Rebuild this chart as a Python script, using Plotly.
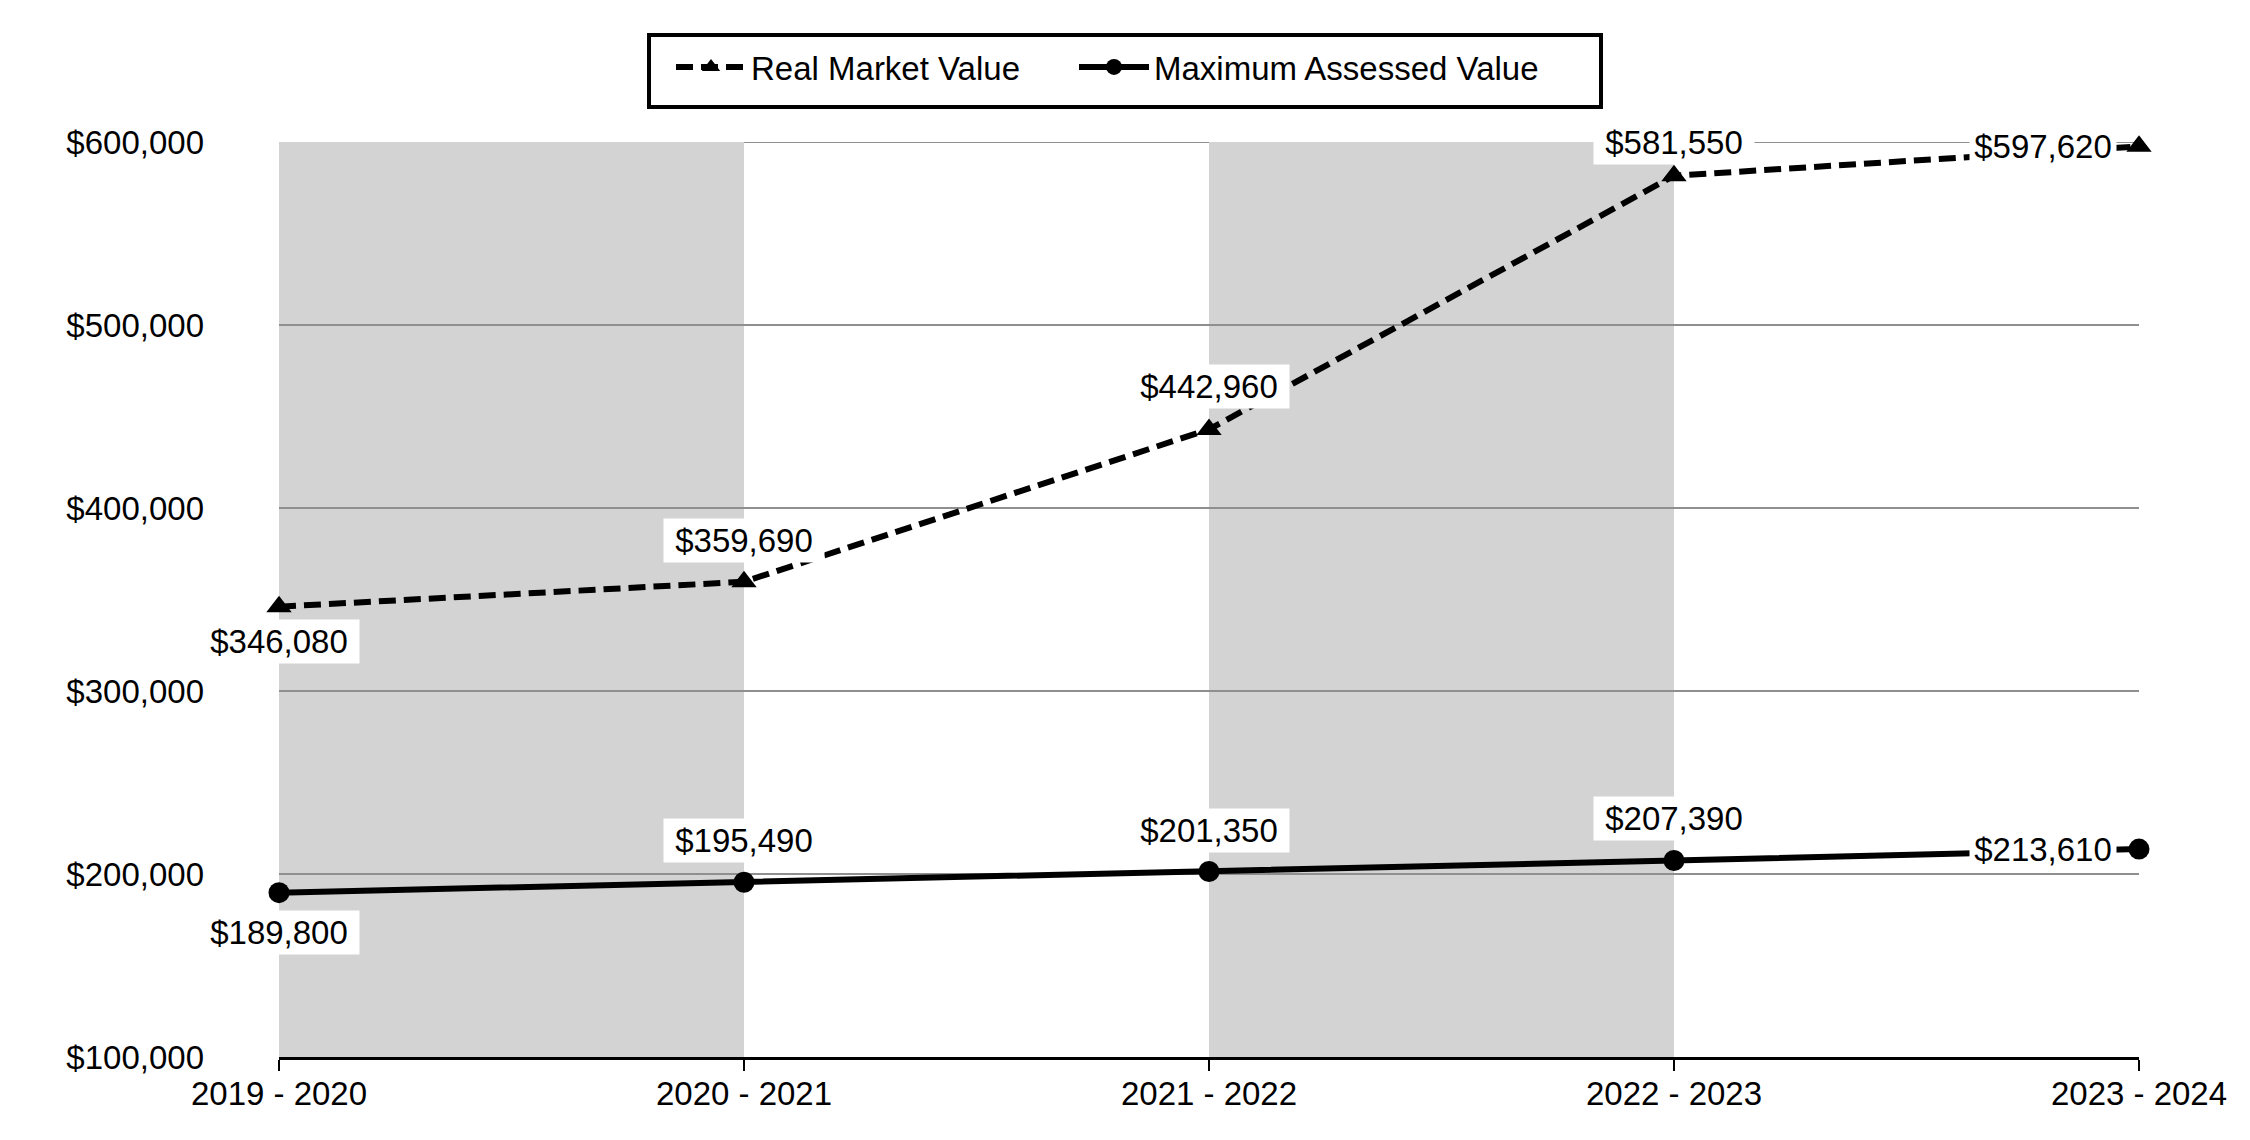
import plotly.graph_objects as go

years = ["2019 - 2020", "2020 - 2021", "2021 - 2022", "2022 - 2023", "2023 - 2024"]
real_market = [346080, 359690, 442960, 581550, 597620]
max_assessed = [189800, 195490, 201350, 207390, 213610]
y_ticks = [100000, 200000, 300000, 400000, 500000, 600000]
shaded_pairs = [(0, 1), (2, 3)]

# label placement per point: (yshift, xanchor, xshift)
real_label_pos = [(-35, "center", 0), (41, "center", 0), (43, "center", 0), (33, "center", 0), (0, "right", -22)]
max_label_pos = [(-40, "center", 0), (42, "center", 0), (41, "center", 0), (42, "center", 0), (0, "right", -22)]

FONT = "Arial, Liberation Sans, sans-serif"
FS = 33

# page has an 8px body margin; figure sized to fill the 2250x1140 window
OFF = 8
W, H = 2250 - 2 * OFF, 1140 - 2 * OFF
ML, MT = 279 - OFF, 142 - OFF
MR = (W + OFF) - 2139
MB = (H + OFF) - 1057
PW, PH = W - ML - MR, H - MT - MB

fig = go.Figure()

fig.add_trace(go.Scatter(
    x=years, y=real_market, name="Real Market Value", mode="lines+markers",
    line=dict(color="black", width=6, dash="17px,8px"),
    marker=dict(symbol="triangle-up", size=22, color="black"),
    cliponaxis=False, hoverinfo="skip", legend="legend",
))
fig.add_trace(go.Scatter(
    x=years, y=max_assessed, name="Maximum Assessed Value", mode="lines+markers",
    line=dict(color="black", width=6),
    marker=dict(symbol="circle", size=21, color="black"),
    cliponaxis=False, hoverinfo="skip", legend="legend2",
))

for a, b in shaded_pairs:
    fig.add_shape(type="rect", xref="x", yref="y", x0=years[a], x1=years[b],
                  y0=y_ticks[0], y1=y_ticks[-1], fillcolor="#d3d3d3",
                  line=dict(width=0), layer="below")
# top gridline (plotly omits the grid line at the range edge)
fig.add_shape(type="line", xref="paper", yref="y", x0=0, x1=1,
              y0=y_ticks[-1], y1=y_ticks[-1], line=dict(color="#8f8f8f", width=2),
              layer="below")

# legend frame (page pixel coords -> paper)
lx0, lx1, ly0, ly1 = 649, 1601, 35, 107
fig.add_shape(type="rect", xref="paper", yref="paper",
              x0=(lx0 - OFF - ML) / PW, x1=(lx1 - OFF - ML) / PW,
              y0=(H - MB - (ly1 - OFF)) / PH, y1=(H - MB - (ly0 - OFF)) / PH,
              line=dict(color="black", width=4), fillcolor="rgba(0,0,0,0)")

def add_labels(values, positions):
    for i, (v, pos) in enumerate(zip(values, positions)):
        ys, xa, xs = pos
        centered = xa == "center"
        fig.add_annotation(x=years[i], y=v, text=f"${v:,}", showarrow=False,
                           xanchor=xa, yanchor="middle", xshift=xs, yshift=ys,
                           bgcolor="white", borderpad=5 if centered else 3,
                           width=150 if centered else 140, height=33 if centered else 37,
                           align="center",
                           font=dict(family=FONT, size=FS, color="black"))

add_labels(real_market, real_label_pos)
add_labels(max_assessed, max_label_pos)

leg_common = dict(
    orientation="h", xref="container", yref="container",
    xanchor="left", yanchor="middle", y=1 - (69 - OFF - 2) / H,
    borderwidth=0, bgcolor="rgba(0,0,0,0)",
    font=dict(family=FONT, size=FS, color="black"),
    itemwidth=70,
)

fig.update_layout(
    width=W, height=H,
    margin=dict(l=ML, r=MR, t=MT, b=MB, autoexpand=False),
    paper_bgcolor="white", plot_bgcolor="white",
    font=dict(family=FONT, size=FS, color="black"),
    showlegend=True,
    legend=dict(x=(671 - OFF) / W, **leg_common),
    legend2=dict(x=(1074 - OFF) / W, **leg_common),
    xaxis=dict(
        type="category", range=[0, len(years) - 1], automargin=False,
        showgrid=False, zeroline=False,
        showline=True, linecolor="black", linewidth=3,
        ticks="outside", ticklen=11, tickwidth=1.5, tickcolor="black",
        ticklabelstandoff=-6,
        tickfont=dict(family=FONT, size=FS, color="black"),
    ),
    yaxis=dict(
        range=[y_ticks[0], y_ticks[-1]], tickvals=y_ticks, automargin=False,
        tickformat="$,", showgrid=True, gridcolor="#8f8f8f", gridwidth=2,
        zeroline=False, showline=False, ticks="",
        ticklabelstandoff=74,
        tickfont=dict(family=FONT, size=FS, color="black"),
    ),
)

fig.write_html("out.html")
